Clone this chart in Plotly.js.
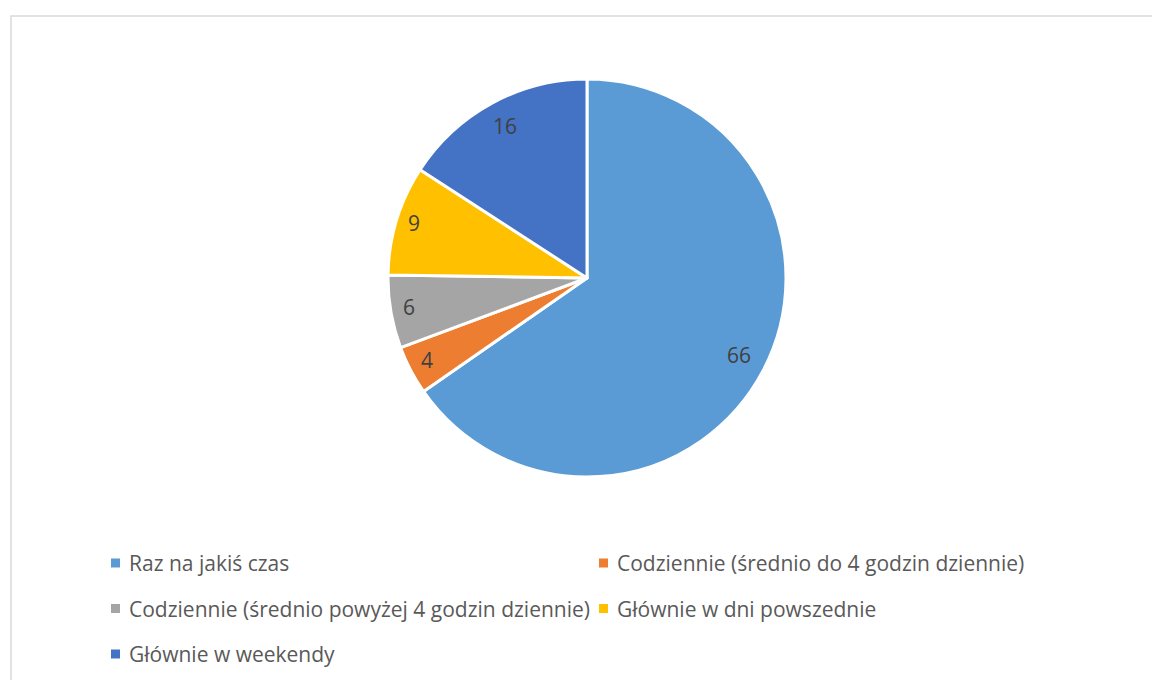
<!DOCTYPE html>
<html>
<head>
<meta charset="utf-8">
<script src="https://cdn.plot.ly/plotly-3.0.1.min.js"></script>
<style>
  html, body { margin: 0; padding: 0; background: #ffffff; }
  #chart { width: 1152px; height: 680px; }
</style>
</head>
<body>
<div id="chart"></div>
<script>
const categories = [
  "Raz na jakiś czas",
  "Codziennie (średnio do 4 godzin dziennie)",
  "Codziennie (średnio powyżej 4 godzin dziennie)",
  "Głównie w dni powszednie",
  "Głównie w weekendy"
];
const values = [66, 4, 6, 9, 16];
const colors = ["#5B9BD5", "#ED7D31", "#A5A5A5", "#FFC000", "#4472C4"];

const W = 1152, H = 680;
const px = x => x / W;
const py = y => 1 - y / H;

const FONT = "'Open Sans', 'Noto Sans', sans-serif";

// pie geometry (pixels)
const CX = 587, CY = 278, R = 199;

const trace = {
  type: "pie",
  labels: categories,
  values: values,
  sort: false,
  direction: "clockwise",
  rotation: 0,
  marker: { colors: colors, line: { color: "#ffffff", width: 3 } },
  textinfo: "none",
  hoverinfo: "label+value",
  showlegend: false,
  domain: { x: [px(CX - R), px(CX + R)], y: [py(CY + R), py(CY - R)] }
};

const shapes = [{
  type: "rect", xref: "paper", yref: "paper",
  x0: px(11), x1: px(1200), y0: py(16), y1: py(720),
  line: { color: "#d9d9d9", width: 1.5 }, fillcolor: "rgba(0,0,0,0)", layer: "below"
}];
const annotations = [];

// data labels placed at each slice's mid-angle (computed from values)
const total = values.reduce((a, b) => a + b, 0);
let cum = 0;
values.forEach((v, i) => {
  const frac = v / total;
  const mid = (cum + frac / 2) * 2 * Math.PI;
  cum += frac;
  const rf = frac > 0.1 ? 0.86 : 0.91;
  const x = CX + Math.sin(mid) * R * rf;
  const y = CY - Math.cos(mid) * R * rf - 2;
  annotations.push({
    xref: "paper", yref: "paper", x: px(x), y: py(y),
    xanchor: "center", yanchor: "middle", showarrow: false,
    text: String(v), font: { family: FONT, size: 21, color: "#404040" }
  });
});

// legend
const colText = [127, 615];
const colMark = [111, 599];
categories.forEach((c, i) => {
  const col = i % 2, row = Math.floor(i / 2);
  const yc = 563 + row * 45.5;
  shapes.push({
    type: "rect", xref: "paper", yref: "paper",
    x0: px(colMark[col]), x1: px(colMark[col] + 9),
    y0: py(yc + 4.5), y1: py(yc - 4.5),
    fillcolor: colors[i], line: { width: 0 }
  });
  annotations.push({
    xref: "paper", yref: "paper", x: px(colText[col]), y: py(yc),
    xanchor: "left", yanchor: "middle", showarrow: false,
    text: c, font: { family: FONT, size: 21, color: "#595959" }
  });
});

const layout = {
  width: W, height: H,
  margin: { l: 0, r: 0, t: 0, b: 0 },
  paper_bgcolor: "#ffffff",
  showlegend: false,
  shapes: shapes,
  annotations: annotations
};

Plotly.newPlot("chart", [trace], layout, { displayModeBar: false, staticPlot: true });
</script>
</body>
</html>
